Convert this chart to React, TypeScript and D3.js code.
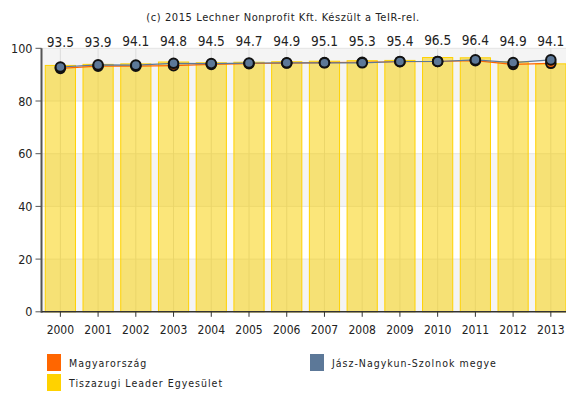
import React from "react";
import * as d3 from "d3";

// Years on the category axis
const years = ["2000", "2001", "2002", "2003", "2004", "2005", "2006", "2007", "2008", "2009", "2010", "2011", "2012", "2013"];
// Tiszazugi Leader Egyesület (bars, labelled)
const tiszazugi = [93.5, 93.9, 94.1, 94.8, 94.5, 94.7, 94.9, 95.1, 95.3, 95.4, 96.5, 96.4, 94.9, 94.1];
// Magyarország (orange line)
const magyarorszag = [92.4, 93.2, 93.2, 93.4, 93.9, 94.2, 94.4, 94.6, 94.7, 94.9, 95.0, 95.3, 93.9, 94.3];
// Jász-Nagykun-Szolnok megye (blue-grey line)
const jasz = [92.9, 93.7, 93.6, 94.3, 94.2, 94.4, 94.5, 94.5, 94.5, 95.0, 95.0, 95.6, 94.6, 95.6];
const yTicks = [0, 20, 40, 60, 80, 100];

const legendItems = [
  { label: "Magyarország", color: "#ff6600" },
  { label: "Jász-Nagykun-Szolnok megye", color: "#5c7898" },
  { label: "Tiszazugi Leader Egyesület", color: "#ffd200" },
];

const FONT = "'DejaVu Sans Condensed', 'DejaVu Sans', sans-serif";

export default function App() {
  const width = 566;
  const height = 395;
  const left = 41.5;
  const right = 569.7;
  const top = 48.3;
  const bottom = 311.8;

  const x = d3.scaleBand<string>().domain(years).range([left, right]).paddingInner(0.2).paddingOuter(0.1);
  const xc = (yr: string) => (x(yr) ?? 0) + x.bandwidth() / 2;
  const y = d3.scaleLinear().domain([0, 100]).range([bottom, top]);

  const line = (vals: number[]) =>
    d3.line<number>().x((_, i) => xc(years[i])).y((v) => y(v))(vals) ?? "";

  // bar labels sit just above the plot, following the bar height a little
  const labelY = (v: number) => y(v) * 0.25 + 30.5;

  return (
    <svg width={width} height={height} style={{ position: "absolute", left: 0, top: 0 }} fontFamily={FONT}>
      <rect width={width} height={height} fill="#fff" />
      <text x={283} y={21} textAnchor="middle" fontSize={11} letterSpacing={0.6} fill="#222">
        (c) 2015 Lechner Nonprofit Kft. Készült a TeIR-rel.
      </text>

      {/* alternating horizontal bands */}
      {yTicks.slice(0, -1).map((t, i) =>
        i % 2 === 0 ? (
          <rect key={"b" + t} x={left} width={right - left} y={y(t + 20)} height={y(t) - y(t + 20)} fill="#f4f4f4" />
        ) : null
      )}
      {yTicks.slice(1).map((t) => (
        <line key={"g" + t} x1={left} x2={right} y1={y(t)} y2={y(t)} stroke="#e4e4e4" strokeWidth={1} />
      ))}
      {years.map((yr) => (
        <line key={"v" + yr} x1={xc(yr)} x2={xc(yr)} y1={top} y2={bottom} stroke="#dcdcdc" strokeWidth={1} />
      ))}

      {/* bars */}
      {tiszazugi.map((v, i) => (
        <rect
          key={"bar" + i}
          x={x(years[i])}
          y={y(v)}
          width={x.bandwidth()}
          height={y(0) - y(v)}
          fill="#f7d000"
          fillOpacity={0.52}
          stroke="#ffd200"
          strokeWidth={1}
        />
      ))}

      {/* lines */}
      <path d={line(magyarorszag)} fill="none" stroke="#ff6600" strokeWidth={1.2} />
      <path d={line(jasz)} fill="none" stroke="#5c7898" strokeWidth={1.2} />
      {magyarorszag.map((v, i) => (
        <circle key={"m" + i} cx={xc(years[i])} cy={y(v)} r={4.8} fill="#ff6600" stroke="#111" strokeWidth={2} />
      ))}
      {jasz.map((v, i) => (
        <circle key={"j" + i} cx={xc(years[i])} cy={y(v)} r={4.8} fill="#5c7898" stroke="#111" strokeWidth={2} />
      ))}

      {/* value labels */}
      {tiszazugi.map((v, i) => (
        <text key={"l" + i} x={xc(years[i])} y={labelY(v)} textAnchor="middle" fontSize={13.5} fill="#222">
          {v.toFixed(1)}
        </text>
      ))}

      {/* axes */}
      <line x1={left} x2={left} y1={top} y2={bottom + 1} stroke="#555" strokeWidth={2} />
      <line x1={left} x2={right} y1={bottom} y2={bottom} stroke="#333" strokeWidth={1.5} />
      {yTicks.map((t) => (
        <g key={"yt" + t}>
          <line x1={left - 6} x2={left} y1={y(t)} y2={y(t)} stroke="#555" strokeWidth={1} />
          <text x={left - 9} y={y(t) + 4.5} textAnchor="end" fontSize={12.5} fill="#222">
            {t}
          </text>
        </g>
      ))}
      {years.map((yr) => (
        <g key={"xt" + yr}>
          <line x1={xc(yr)} x2={xc(yr)} y1={bottom} y2={bottom + 5} stroke="#333" strokeWidth={1} />
          <text x={xc(yr)} y={bottom + 22} textAnchor="middle" fontSize={12} fill="#222">
            {yr}
          </text>
        </g>
      ))}

      {/* legend */}
      {legendItems.map((d, i) => {
        const lx = i === 1 ? 310 : 47;
        const ly = i === 2 ? 374 : 354;
        return (
          <g key={"lg" + i}>
            <rect x={lx} y={ly} width={14} height={17} fill={d.color} />
            <text x={lx + 22} y={ly + 12.5} fontSize={10.5} letterSpacing={1} fill="#222">
              {d.label}
            </text>
          </g>
        );
      })}
    </svg>
  );
}
